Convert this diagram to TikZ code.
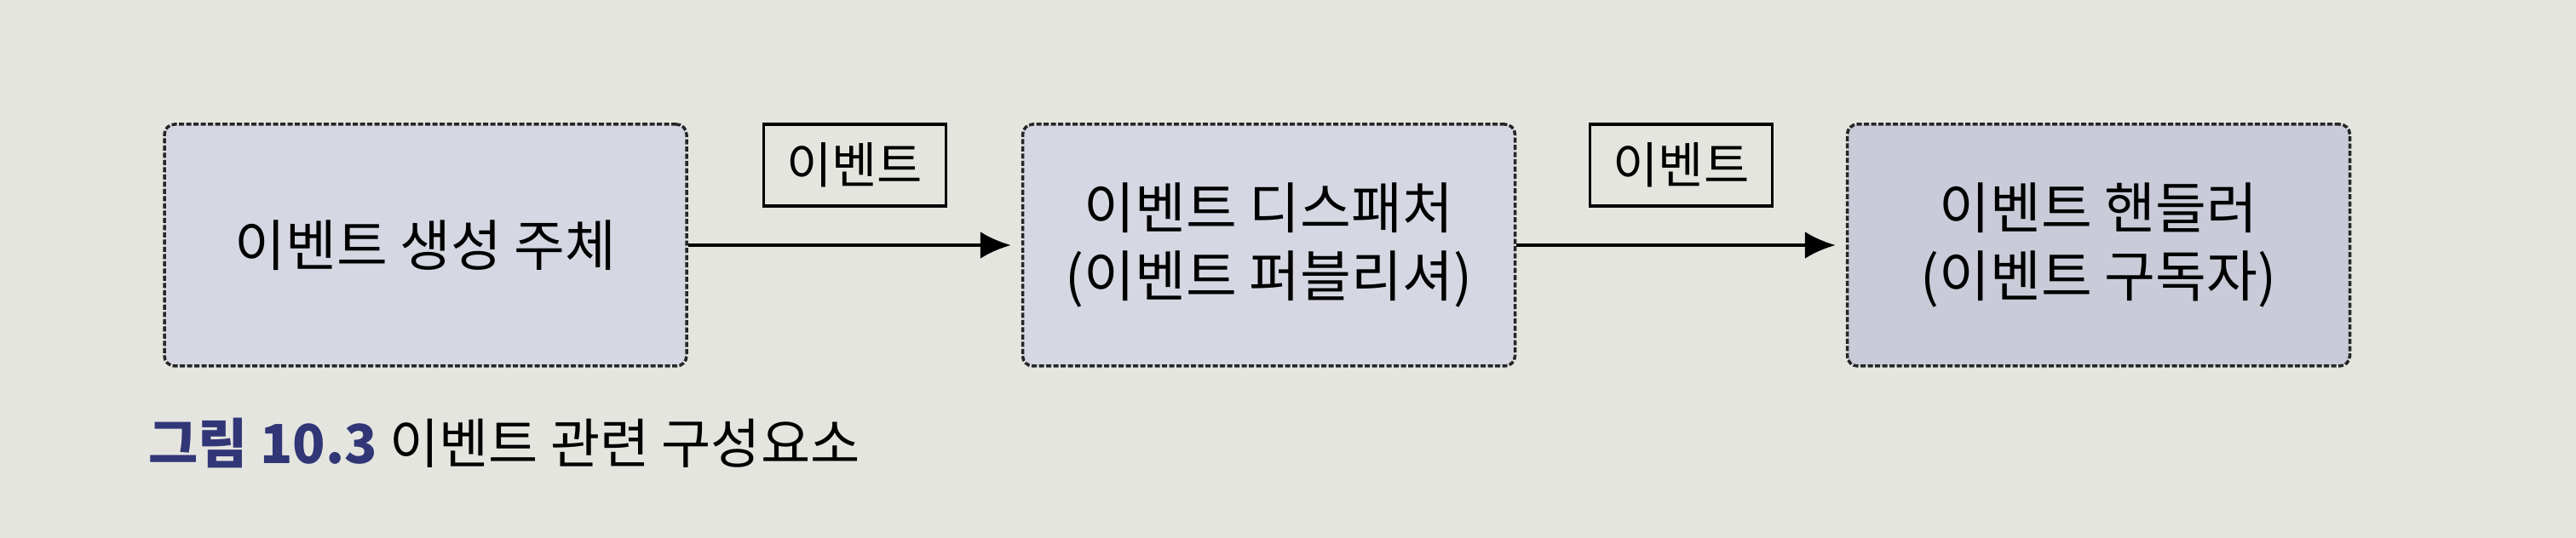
\documentclass[tikz,border=0pt]{standalone}
\usepackage{fontspec}
\setmainfont{Noto Sans CJK KR}
\usepackage{xcolor}
\definecolor{paper}{RGB}{229,229,224}
\definecolor{boxfill}{RGB}{213,215,226}
\definecolor{boxfilldark}{RGB}{201,203,216}
\definecolor{navy}{RGB}{48,54,118}
\usepackage{tikz}
\usetikzlibrary{positioning,arrows.meta}
\tikzset{
    comp/.style={
    rectangle,rounded corners=1.2mm,draw=black!85,line width=0.35mm,dash pattern=on 0.6mm off 0.25mm,
    fill=boxfill,minimum height=28.4mm,align=center,font=\fontsize{18.5}{23}\selectfont
    },
    evt/.style={
    rectangle,draw=black,line width=0.35mm,fill=paper,minimum width=21.4mm,minimum height=9.6mm,
    inner sep=0pt,font=\fontsize{16.5}{18}\selectfont
    },
  line/.style={draw, line width=0.4mm, -{Latex[length=3.6mm,width=3.2mm]}, shorten >=1.2mm},
}
\begin{document}
\begin{tikzpicture}
\def \ymid {3.44}
\fill[paper] (0,0) rectangle (30.24,6.32);
\useasboundingbox (0,0) rectangle (30.24,6.32);

  \node[comp,minimum width=61.3mm] (producer) at (4.995,\ymid) {이벤트 생성 주체};
  \node[comp,minimum width=57.8mm,right of=producer,node distance=9.9cm] (dispatcher) {이벤트 디스패처\\(이벤트 퍼블리셔)};
  \node[comp,minimum width=59mm,fill=boxfilldark,right of=dispatcher,node distance=9.74cm] (handler) {이벤트 핸들러\\(이벤트 구독자)};
  \path[line] (producer) -- node[evt,above=4.4mm] (evtA) {이벤트} (dispatcher);
  \path[line] (dispatcher) -- node[evt,above=4.4mm] (evtB) {이벤트} (handler);
  \node[anchor=west,font=\fontsize{18}{20}\selectfont] (caption) at (1.62,1.11) {\textcolor{navy}{\bfseries 그림 10.3} 이벤트 관련 구성요소};
\end{tikzpicture}
\end{document}
